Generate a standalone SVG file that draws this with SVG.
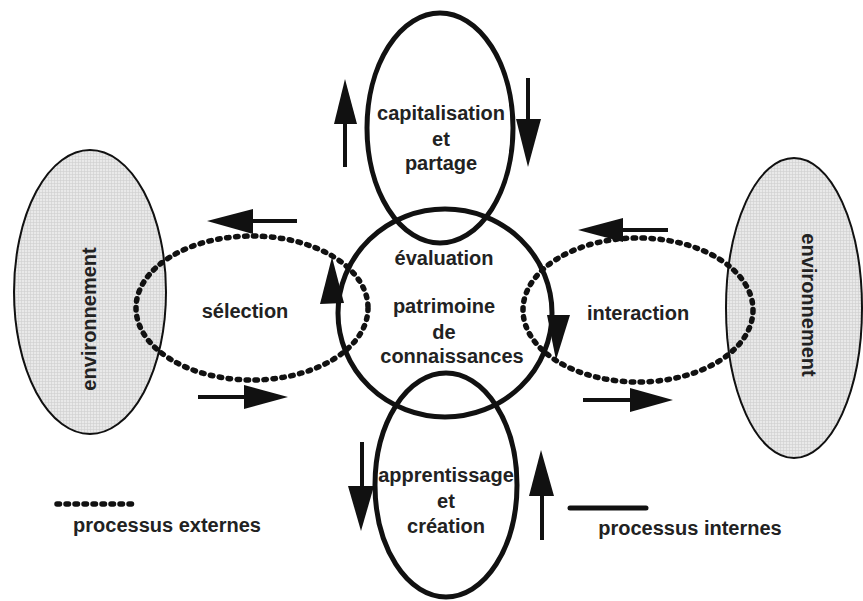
<svg xmlns="http://www.w3.org/2000/svg" width="863" height="601" viewBox="0 0 863 601">
<defs>
<pattern id="grid" width="3" height="3" patternUnits="userSpaceOnUse">
<rect width="3" height="3" fill="#e9e9e9"/>
<path d="M0 0.5H3M0.5 0V3" stroke="#cfcfcf" stroke-width="0.6"/>
</pattern>
</defs>
<style>
.env{fill:url(#grid);stroke:#111;stroke-width:2}
.dot{fill:none;stroke:#111;stroke-width:5.5;stroke-dasharray:2.5 6.5;stroke-linecap:round}
.ring{fill:none;stroke:#111;stroke-width:5}
.shaft{stroke:#111;stroke-width:4}
.head{fill:#111}
text{font-family:"Liberation Sans",Arial,sans-serif;font-weight:bold;font-size:20px;fill:#222;text-anchor:middle}
</style>
<rect width="863" height="601" fill="#fff"/>
<g id="env-left"><ellipse class="env" cx="90" cy="292" rx="76" ry="142"/><text transform="translate(96,319) rotate(-90)">environnement</text></g>
<g id="env-right"><ellipse class="env" cx="794" cy="308" rx="68" ry="150"/><text transform="translate(802,305) rotate(90)">environnement</text></g>
<g id="selection"><ellipse class="dot" cx="252" cy="308" rx="116" ry="72"/><text x="245" y="318">sélection</text></g>
<g id="interaction"><ellipse class="dot" cx="638" cy="310" rx="115" ry="72"/><text x="638" y="320">interaction</text></g>
<g id="capitalisation"><ellipse class="ring" cx="440" cy="128" rx="73" ry="115"/><text x="441" y="120">capitalisation</text><text x="441" y="146">et</text><text x="441" y="170">partage</text></g>
<g id="apprentissage"><ellipse class="ring" cx="446" cy="485" rx="71" ry="112"/><text x="446" y="482">apprentissage</text><text x="446" y="508">et</text><text x="446" y="533">création</text></g>
<g id="patrimoine"><ellipse class="ring" cx="445" cy="313" rx="107" ry="104"/><text x="444" y="265">évaluation</text><text x="444" y="313">patrimoine</text><text x="444" y="339">de</text><text x="452" y="363">connaissances</text></g>
<g id="connectors">
<line class="shaft" x1="345" y1="167" x2="345" y2="120"/><polygon class="head" points="345,79 334,124 357,124"/>
<line class="shaft" x1="528" y1="78" x2="528" y2="122"/><polygon class="head" points="516,119 541,119 528,167"/>
<line class="shaft" x1="362" y1="442" x2="362" y2="490"/><polygon class="head" points="348,486 374,486 361,531"/>
<line class="shaft" x1="542" y1="540" x2="542" y2="492"/><polygon class="head" points="541,450 529,496 554,496"/>
<line class="shaft" x1="297" y1="221" x2="250" y2="221"/><polygon class="head" points="207,221 253,209 253,234"/>
<line class="shaft" x1="198" y1="397" x2="248" y2="397"/><polygon class="head" points="288,397 244,385 244,409"/>
<line class="shaft" x1="668" y1="230" x2="620" y2="230"/><polygon class="head" points="578,230 623,218 623,242"/>
<line class="shaft" x1="583" y1="400" x2="634" y2="400"/><polygon class="head" points="673,400 630,388 630,412"/>
<polygon class="head" points="332,257 320,304 344,303"/>
<polygon class="head" points="547,315 570,315 556,360"/>
</g>
<g id="legend">
<line class="dot" x1="57" y1="504" x2="137" y2="504"/>
<text x="167" y="532">processus externes</text>
<line x1="570" y1="508" x2="646" y2="508" stroke="#111" stroke-width="5" stroke-linecap="round"/>
<text x="690" y="535">processus internes</text>
</g>
</svg>
